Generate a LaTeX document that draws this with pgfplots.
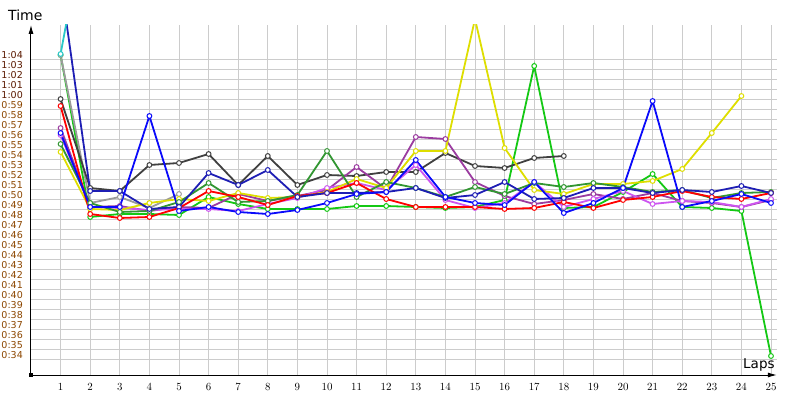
\documentclass[border=0pt]{standalone}
\usepackage{fontspec}
\setmainfont{DejaVu Sans}
\usepackage{pgfplots}
\pgfplotsset{compat=1.18}
\usetikzlibrary{arrows.meta}
\definecolor{cRed}{RGB}{255,0,0}
\definecolor{cGreen}{RGB}{20,200,20}
\definecolor{cDGreen}{RGB}{50,150,50}
\definecolor{cBlue}{RGB}{10,10,250}
\definecolor{cDBlue}{RGB}{30,30,180}
\definecolor{cCyan}{RGB}{40,200,200}
\definecolor{cGray}{RGB}{155,155,155}
\definecolor{cDGray}{RGB}{64,64,64}
\definecolor{cYellow}{RGB}{222,222,0}
\definecolor{cPurple}{RGB}{155,60,160}
\definecolor{cViolet}{RGB}{205,85,240}
\definecolor{cGrid}{RGB}{204,204,204}
\definecolor{cLabA}{RGB}{140,70,0}
\definecolor{cLabB}{RGB}{90,25,0}
\newcommand{\la}[1]{\textcolor{cLabA}{#1}}
\newcommand{\lb}[1]{\textcolor{cLabB}{#1}}
\begin{document}
\begin{tikzpicture}
\begin{axis}[
  x=29.6bp, y=10bp,
  xmin=0, xmax=25.2, ymin=32, ymax=67,
  axis lines=left,
  axis line style={line width=1bp, black},
  x axis line style={-{Latex[length=9bp,width=5bp]}},
  y axis line style={-{Latex[length=9bp,width=5bp]}},
  xtick={1,...,25},
  ytick={34,...,64},
  yticklabels={\la{0:34},\la{0:35},\la{0:36},\la{0:37},\la{0:38},\la{0:39},\la{0:40},\la{0:41},\la{0:42},\la{0:43},\la{0:44},\la{0:45},\la{0:46},\la{0:47},\la{0:48},\la{0:49},\la{0:50},\la{0:51},\la{0:52},\la{0:53},\la{0:54},\la{0:55},\la{0:56},\la{0:57},\la{0:58},\la{0:59},\lb{1:00},\lb{1:01},\lb{1:02},\lb{1:03},\lb{1:04}},
  minor ytick={33.5,34.5,...,63.5},
  xmajorgrids, yminorgrids, ymajorgrids=false,
  grid style={draw=cGrid, line width=1bp},
  minor grid style={draw=cGrid, line width=1bp},
  major tick length=0pt, minor tick length=0pt,
  yticklabel style={font=\fontsize{9.5bp}{10bp}\selectfont, anchor=east, inner sep=0pt, xshift=-8bp},
  xticklabel style={font=\fontsize{10.5bp}{11bp}\selectfont, anchor=north, inner sep=0pt, yshift=-8bp},
  ser/.style={line width=1.8bp, mark=*, mark size=2.4bp, mark options={fill=white, solid, line width=1bp}},
]
\coordinate (O) at (axis cs:0,32);
\addplot[ser, color=cGreen] coordinates {(1,64.0)(2,47.8)(3,48.1)(4,48.1)(5,48.0)(6,49.8)(7,49.1)(8,48.6)(9,48.6)(10,48.6)(11,48.9)(12,48.9)(13,48.8)(14,48.7)(15,48.8)(16,49.5)(17,62.9)(18,48.7)(19,48.8)(20,50.3)(21,52.1)(22,48.8)(23,48.7)(24,48.4)(25,33.9)};
\addplot[ser, color=cGray] coordinates {(1,64.0)(2,49.2)(3,49.8)(4,48.7)(5,50.1)};
\addplot[ser, color=cDGray] coordinates {(1,59.6)(2,50.7)(3,50.4)(4,53.0)(5,53.2)(6,54.1)(7,51.0)(8,53.9)(9,51.0)(10,52.0)(11,51.9)(12,52.3)(13,52.3)(14,54.2)(15,52.9)(16,52.7)(17,53.7)(18,53.9)};
\addplot[ser, color=cPurple] coordinates {(1,56.7)(2,48.8)(3,48.9)(4,48.4)(5,48.8)(6,48.7)(7,50.1)(8,49.4)(9,49.9)(10,50.5)(11,52.8)(12,50.6)(13,55.8)(14,55.6)(15,51.3)(16,49.9)(17,49.1)(18,49.5)(19,50.1)(20,49.6)(21,50.2)(22,49.4)(23,49.2)(24,48.8)(25,49.5)};
\addplot[ser, color=cViolet] coordinates {(1,56.0)(2,48.8)(3,48.7)(4,48.5)(5,48.6)(6,48.6)(7,48.4)(8,49.1)(9,49.7)(10,50.7)(11,51.2)(12,50.5)(13,53.0)(14,49.5)(15,48.7)(16,49.2)(17,51.3)(18,48.8)(19,49.6)(20,50.4)(21,49.1)(22,49.4)(23,49.3)(24,48.8)(25,49.6)};
\addplot[ser, color=cYellow] coordinates {(1,54.3)(2,48.6)(3,48.5)(4,49.2)(5,49.6)(6,49.4)(7,50.2)(8,49.7)(9,49.8)(10,50.3)(11,51.6)(12,50.7)(13,54.4)(14,54.4)(15,67.6)(16,54.7)(17,50.5)(18,50.1)(19,51.1)(20,51.1)(21,51.4)(22,52.6)(23,56.2)(24,59.9)};
\addplot[ser, color=cDGreen] coordinates {(1,55.1)(2,49.2)(3,48.3)(4,48.4)(5,49.3)(6,51.2)(7,49.3)(8,49.4)(9,50.0)(10,54.4)(11,49.8)(12,51.3)(13,50.7)(14,49.8)(15,50.8)(16,50.1)(17,51.2)(18,50.8)(19,51.2)(20,50.8)(21,50.3)(22,50.5)(23,49.7)(24,50.2)(25,50.3)};
\addplot[ser, color=cRed] coordinates {(1,58.9)(2,48.1)(3,47.7)(4,47.8)(5,48.7)(6,50.4)(7,49.8)(8,49.0)(9,49.9)(10,50.2)(11,51.2)(12,49.6)(13,48.8)(14,48.8)(15,48.8)(16,48.6)(17,48.7)(18,49.3)(19,48.7)(20,49.5)(21,49.8)(22,50.4)(23,49.8)(24,49.6)(25,50.2)};
\addplot[ser, color=cDBlue] coordinates {(1,71.4)(2,50.4)(3,50.4)(4,48.6)(5,48.8)(6,52.2)(7,51.0)(8,52.5)(9,49.8)(10,50.2)(11,50.2)(12,50.3)(13,50.7)(14,49.7)(15,50.0)(16,51.3)(17,49.6)(18,49.7)(19,50.7)(20,50.7)(21,50.2)(22,50.5)(23,50.3)(24,50.9)(25,50.2)};
\addplot[ser, color=cBlue] coordinates {(1,56.2)(2,48.8)(3,48.8)(4,57.9)(5,48.4)(6,48.8)(7,48.3)(8,48.1)(9,48.5)(10,49.2)(11,50.1)(12,50.3)(13,53.5)(14,49.8)(15,49.2)(16,49.0)(17,51.3)(18,48.2)(19,49.2)(20,50.7)(21,59.4)(22,48.8)(23,49.4)(24,50.1)(25,49.2)};
\addplot[ser, color=cCyan] coordinates {(1,64.1)(2,80)};
\end{axis}
\fill[black] ([shift={(-1.8bp,-1.8bp)}]O) rectangle ([shift={(1.8bp,1.8bp)}]O);
\node[anchor=base west, inner sep=0pt, font=\fontsize{14bp}{14bp}\selectfont] at ([shift={(-23bp,354bp)}]O) {Time};
\node[anchor=base west, inner sep=0pt, font=\fontsize{13.5bp}{14bp}\selectfont] at ([shift={(712bp,7bp)}]O) {Laps};
\pgfresetboundingbox
\path[use as bounding box] ([shift={(-31bp,-25bp)}]O) rectangle ([shift={(769bp,375bp)}]O);
\end{tikzpicture}
\end{document}
